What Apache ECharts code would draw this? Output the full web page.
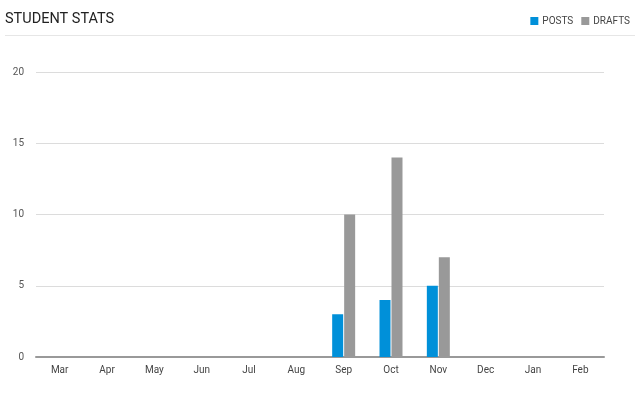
<!DOCTYPE html>
<html><head><meta charset="utf-8">
<script src="https://cdn.jsdelivr.net/npm/echarts@6/dist/echarts.min.js"></script>
<style>html,body{margin:0;padding:0;background:#fff}#c{width:640px;height:393px}</style>
</head><body><div id="c"></div>
<script>
var months = ['Mar','Apr','May','Jun','Jul','Aug','Sep','Oct','Nov','Dec','Jan','Feb'];
var posts = [0,0,0,0,0,0,3,4,5,0,0,0];
var drafts = [0,0,0,0,0,0,10,14,7,0,0,0];
var yTicks = [0,5,10,15,20];

var chart = echarts.init(document.getElementById('c'));
chart.setOption({
  animation:false,
  textStyle:{fontFamily:'Roboto'},
  title:{text:'STUDENT STATS',left:0,top:7,textStyle:{fontFamily:'Roboto',fontSize:14.5,fontWeight:'normal',color:'#222'}},
  legend:{right:5,top:11,itemWidth:8,itemHeight:8,itemGap:8,itemStyle:{borderWidth:0},icon:'rect',
    textStyle:{fontFamily:'Roboto',fontSize:10,color:'#444',padding:[0,0,0,-1]},
    data:['POSTS','DRAFTS']},
  graphic:[{type:'line',shape:{x1:5,y1:35.5,x2:635,y2:35.5},style:{stroke:'#e6e6e6',lineWidth:1}}],
  grid:{left:36,right:36,top:72,bottom:36,containLabel:false},
  xAxis:{type:'category',data:months,
    axisLine:{lineStyle:{color:'#999',width:2}},axisTick:{show:false},
    axisLabel:{color:'#444',fontSize:10,margin:8}},
  yAxis:{type:'value',min:0,max:20,interval:5,
    axisLine:{show:false},axisTick:{show:false},
    axisLabel:{color:'#555',fontSize:10,margin:12,formatter:function(v){return yTicks.indexOf(v)>=0?String(v):'';}},
    splitLine:{lineStyle:{color:'#dcdcdc'}}},
  series:[
    {name:'POSTS',type:'bar',data:posts,barWidth:11,barGap:'9%',itemStyle:{color:'#0090d9'}},
    {name:'DRAFTS',type:'bar',data:drafts,barWidth:11,itemStyle:{color:'#999999'}}
  ]
});
</script></body></html>
